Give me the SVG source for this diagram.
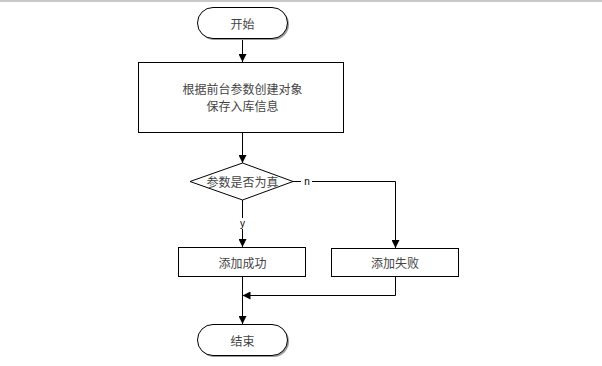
<svg xmlns="http://www.w3.org/2000/svg" width="602" height="366" viewBox="0 0 602 366">
<defs>
<marker id="arr" markerWidth="8" markerHeight="8" refX="8" refY="4" orient="auto" markerUnits="userSpaceOnUse">
<path d="M0,0 L8,4 L0,8 Z" fill="#000"/>
</marker>
</defs>
<style>
.shape{fill:#fff;stroke:#000;stroke-width:1}
.shadow{fill:#9a9a9a;stroke:none}
.lbl{font-family:"Noto Sans CJK SC","Liberation Sans",sans-serif;font-size:12px;fill:#444;text-anchor:middle;dominant-baseline:central}
.edge{fill:none;stroke:#000;stroke-width:1}
.small{font-family:"Liberation Sans",sans-serif;font-size:10px;fill:#000;text-anchor:middle;dominant-baseline:central}
</style>
<rect x="0" y="0" width="602" height="2" fill="#c8c8c8"/>
<g id="connectors">
<path class="edge" d="M242.5,38 L242.5,62" marker-end="url(#arr)"/>
<path class="edge" d="M242.5,133 L242.5,163" marker-end="url(#arr)"/>
<path class="edge" d="M242.5,200 L242.5,218 M242.5,229 L242.5,247" marker-end="url(#arr)"/>
<path class="edge" d="M293,181.5 L301,181.5 M312,181.5 L395.5,181.5 L395.5,248" marker-end="url(#arr)"/>
<path class="edge" d="M395.5,276 L395.5,295.5 L242.5,295.5" marker-end="url(#arr)"/>
<path class="edge" d="M242.5,276 L242.5,324" marker-end="url(#arr)"/>
<text class="small" x="307" y="181">n</text>
<text class="small" x="242.5" y="223">y</text>
</g>
<g id="start">
<rect class="shadow" x="199" y="9" width="90" height="31" rx="15.5"/>
<rect class="shape" x="197.5" y="7.5" width="90" height="31" rx="15.5"/>
<text class="lbl" x="242.5" y="23">开始</text>
</g>
<g id="create">
<rect class="shape" x="138.5" y="62.5" width="205" height="70"/>
<text class="lbl" x="242.5" y="88">根据前台参数创建对象</text>
<text class="lbl" x="242.5" y="105">保存入库信息</text>
</g>
<g id="check">
<polygon class="shape" points="242.5,163 293,181.5 242.5,200 190,181.5"/>
<text class="lbl" x="242.5" y="181.5">参数是否为真</text>
</g>
<g id="success">
<rect class="shape" x="178.5" y="247.5" width="127" height="29"/>
<text class="lbl" x="242.5" y="262">添加成功</text>
</g>
<g id="fail">
<rect class="shape" x="331.5" y="248.5" width="127" height="28"/>
<text class="lbl" x="395" y="262.5">添加失败</text>
</g>
<g id="end">
<rect class="shadow" x="199" y="326" width="90" height="31" rx="15.5"/>
<rect class="shape" x="197.5" y="324.5" width="90" height="31" rx="15.5"/>
<text class="lbl" x="242.5" y="340">结束</text>
</g>
</svg>
